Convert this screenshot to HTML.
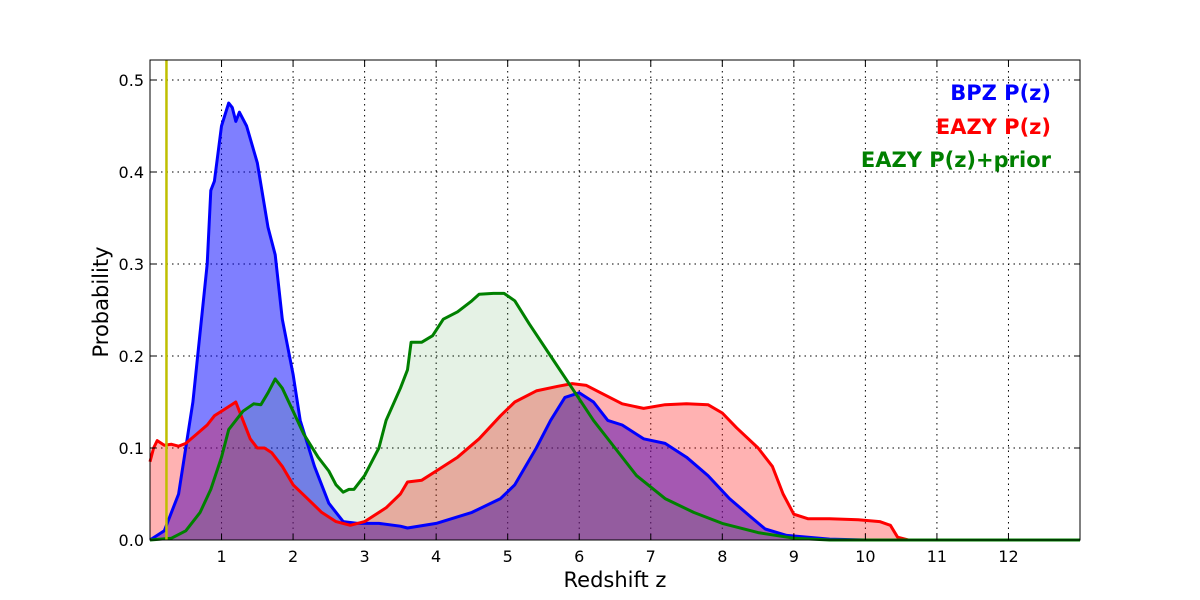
<!DOCTYPE html>
<html><head><meta charset="utf-8"><style>
body{margin:0;background:#fff;}
svg{display:block;font-family:"DejaVu Sans","Liberation Sans",sans-serif;}
</style></head><body>
<svg id="chart" width="1200" height="600" xmlns="http://www.w3.org/2000/svg">
<rect width="1200" height="600" fill="#fff"/>
<g id="grid"></g>
<g id="series"></g>
<g id="axes"></g>
<text x="615" y="587" font-size="21" text-anchor="middle">Redshift z</text>
<text x="108" y="302" font-size="21" text-anchor="middle" transform="rotate(-90 108 302)">Probability</text>
<text x="1051" y="100" font-size="21" font-weight="bold" fill="#0000ff" text-anchor="end">BPZ P(z)</text>
<text x="1051" y="134" font-size="21" font-weight="bold" fill="#ff0000" text-anchor="end">EAZY P(z)</text>
<text x="1051" y="167" font-size="21" font-weight="bold" fill="#008000" text-anchor="end">EAZY P(z)+prior</text>
</svg>
<script>
const bpzZ=[0,0.2,0.4,0.6,0.8,0.85,0.9,1.0,1.1,1.15,1.2,1.25,1.35,1.5,1.65,1.75,1.85,2.0,2.1,2.3,2.5,2.7,2.9,3.2,3.5,3.6,4.0,4.5,4.9,5.1,5.4,5.6,5.8,6.0,6.2,6.4,6.6,6.9,7.2,7.5,7.8,8.1,8.4,8.6,8.9,9.5,10,13];
const bpzP=[0,0.01,0.05,0.15,0.30,0.38,0.39,0.45,0.475,0.47,0.455,0.465,0.45,0.41,0.34,0.31,0.24,0.18,0.13,0.08,0.04,0.02,0.018,0.018,0.015,0.013,0.018,0.03,0.045,0.06,0.1,0.13,0.155,0.16,0.15,0.13,0.125,0.11,0.105,0.09,0.07,0.045,0.025,0.012,0.005,0.001,0,0];
const eazyZ=[0,0.05,0.1,0.2,0.3,0.4,0.5,0.65,0.8,0.9,1.0,1.1,1.2,1.3,1.4,1.5,1.6,1.7,1.85,2.0,2.2,2.4,2.6,2.8,3.0,3.3,3.5,3.6,3.8,4.0,4.3,4.6,4.9,5.1,5.4,5.7,5.9,6.1,6.3,6.6,6.9,7.2,7.5,7.8,8.0,8.2,8.5,8.7,8.85,9.0,9.2,9.5,9.9,10.2,10.35,10.45,10.6,13];
const eazyP=[0.085,0.1,0.108,0.103,0.104,0.102,0.105,0.115,0.125,0.135,0.14,0.145,0.15,0.13,0.11,0.1,0.1,0.095,0.08,0.06,0.045,0.03,0.02,0.016,0.02,0.035,0.05,0.063,0.065,0.075,0.09,0.11,0.135,0.15,0.162,0.167,0.17,0.168,0.16,0.148,0.143,0.147,0.148,0.147,0.138,0.122,0.1,0.08,0.05,0.028,0.023,0.023,0.022,0.02,0.016,0.003,0,0];
const priorZ=[0,0.3,0.5,0.7,0.85,1.0,1.1,1.2,1.3,1.45,1.55,1.65,1.75,1.85,2.0,2.15,2.35,2.5,2.6,2.7,2.78,2.85,3.0,3.2,3.3,3.5,3.6,3.65,3.8,3.95,4.1,4.3,4.5,4.6,4.8,4.95,5.1,5.3,5.6,5.9,6.2,6.5,6.8,7.2,7.6,8.0,8.5,9.0,9.5,13];
const priorP=[0,0.002,0.01,0.03,0.055,0.09,0.12,0.13,0.14,0.148,0.147,0.16,0.175,0.165,0.14,0.115,0.09,0.075,0.06,0.052,0.055,0.055,0.07,0.1,0.13,0.165,0.185,0.215,0.215,0.222,0.24,0.248,0.26,0.267,0.268,0.268,0.26,0.235,0.2,0.165,0.13,0.1,0.07,0.045,0.03,0.018,0.008,0.002,0,0];
const xTicks=[1,2,3,4,5,6,7,8,9,10,11,12];
const yTicks=[0,0.1,0.2,0.3,0.4,0.5];
const markerZ=0.23;
const X0=150,X1=1080,Y0=540,Y1=60,ZMAX=13,PMAX=0.5217;
const sx=z=>X0+(X1-X0)*z/ZMAX, sy=p=>Y0-(Y0-Y1)*p/PMAX;
const NS="http://www.w3.org/2000/svg";
function mk(tag,parent,attrs){const e=document.createElementNS(NS,tag);for(const k in attrs)e.setAttribute(k,attrs[k]);parent.appendChild(e);return e;}
const grid=document.getElementById('grid'),axes=document.getElementById('axes'),ser=document.getElementById('series');
xTicks.forEach(t=>{
 const g=mk('line',grid,{x1:sx(t),x2:sx(t),y1:Y1,y2:Y0,stroke:'#000','stroke-dasharray':'1.5,4','stroke-width':1});
 
 
 const tk=mk('path',axes,{d:`M${sx(t)},${Y0}v-6M${sx(t)},${Y1}v6`,stroke:'#000'});
 
 
 const l=mk('text',axes,{x:sx(t),y:Y0+22,'font-size':16,'text-anchor':'middle'});l.textContent=t;
 
 
});
yTicks.forEach(t=>{
 const g=mk('line',grid,{x1:X0,x2:X1,y1:sy(t),y2:sy(t),stroke:'#000','stroke-dasharray':'1.5,4','stroke-width':1});
 
 
 const tk=mk('path',axes,{d:`M${X0},${sy(t)}h6M${X1},${sy(t)}h-6`,stroke:'#000'});
 
 
 const l=mk('text',axes,{x:X0-6,y:sy(t)+6,'font-size':16,'text-anchor':'end'});l.textContent=t.toFixed(1);
 
 
});
function series(zs,ps,fill,stroke,name){
 let d=zs.map((z,i)=>(i?'L':'M')+sx(z).toFixed(1)+','+sy(ps[i]).toFixed(1)).join('');
 const a=mk('path',ser,{d:d+`L${sx(zs[zs.length-1])},${Y0}L${sx(zs[0])},${Y0}Z`,fill:fill,stroke:'none'});
 
 
 return d;
}
const dB=series(bpzZ,bpzP,'rgba(0,0,255,0.5)','#00f','bpz');
const dE=series(eazyZ,eazyP,'rgba(255,0,0,0.3)','#f00','eazy');
const dP=series(priorZ,priorP,'rgba(0,128,0,0.1)','#080','eazy-prior');
[[dB,'#0000ff','bpz-line'],[dE,'#ff0000','eazy-line'],[dP,'#008000','eazy-prior-line']].forEach(([d,c,n])=>{
 const l=mk('path',ser,{d:d,fill:'none',stroke:c,'stroke-width':3,'stroke-linejoin':'round'});
 
 
});
const m=mk('line',ser,{x1:sx(markerZ),x2:sx(markerZ),y1:Y1,y2:Y0,stroke:'#bfbf00','stroke-width':2.5});


const f=mk('rect',axes,{x:X0,y:Y1,width:X1-X0,height:Y0-Y1,fill:'none',stroke:'#000','stroke-width':1});


</script>
</body></html>
